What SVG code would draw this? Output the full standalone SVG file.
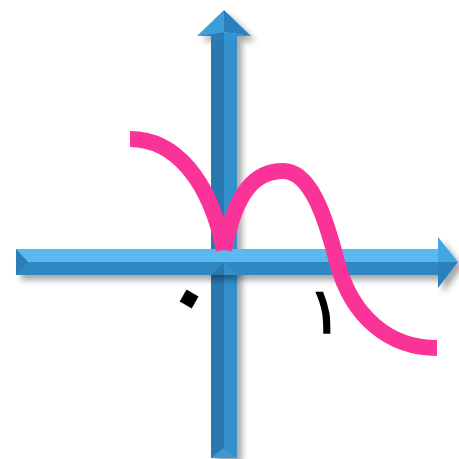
<svg xmlns="http://www.w3.org/2000/svg" width="459" height="459" viewBox="0 0 459 459">
<defs>
<filter id="sh" x="-20%" y="-20%" width="140%" height="140%">
<feGaussianBlur in="SourceAlpha" stdDeviation="3"/>
<feOffset dx="5" dy="5" result="b"/>
<feComponentTransfer><feFuncA type="linear" slope="0.35"/></feComponentTransfer>
<feMerge><feMergeNode/><feMergeNode in="SourceGraphic"/></feMerge>
</filter>
<style>
.vd{fill:#2a78b0}.vl{fill:#3290cc}.hl{fill:#5cb9ef}.hd{fill:#2f88c4}
.hdl{fill:#3a9ed9}.hdd{fill:#2c80bd}
.curve{fill:none;stroke:#fa3399;stroke-width:16}
.lbl{font-family:"DejaVu Sans",sans-serif;fill:#000}
</style>
</defs>
<g id="connectors">
<g id="y-axis" filter="url(#sh)">
<polygon class="vd" points="211,36 224,36 224,458 211,458"/>
<polygon class="vl" points="224,36 237,36 237,458 224,458"/>
<polygon class="hdl" points="224,10 197,36 224,32"/>
<polygon class="hdd" points="224,10 251,36 224,32"/>
<polygon fill="#2b7cb6" points="197,36 224,32 224,40 211,40 211,36"/>
<polygon fill="#3394d0" points="251,36 224,32 224,40 237,40 237,36"/>
<polygon fill="#3a9ad6" points="211,458 224,448 237,458"/>
</g>
<g id="x-axis" filter="url(#sh)">
<polygon class="hl" points="16,249 438,249 438,262 16,262"/>
<polygon class="hd" points="16,262 438,262 438,275 16,275"/>
<polygon fill="#2a7fb8" points="16,249 28,262 16,275"/>
<polygon fill="#43a6e3" points="438,237 458,262 438,262"/>
<polygon fill="#2a80bd" points="438,262 458,262 438,288"/>
</g>
<polygon class="vd" points="211,275 224,262 224,275"/>
<polygon class="vl" points="224,262 237,275 224,275"/>
</g>
<g id="curve">
<path class="curve" d="M130,139 C175,139 210,180 224,250"/>
<path class="curve" d="M224,250 C236,190 256,171 283,171 C310,171 325,215 337,262 C352,318 390,348 437,348"/>
</g>
<g id="label-0"><text class="lbl" x="191" y="322" font-size="80" font-weight="bold" text-anchor="middle" transform="rotate(30 191 296)">٠</text></g>
<g id="label-1"><text class="lbl" x="325" y="333" font-size="64" text-anchor="middle" stroke="#000" stroke-width="1.5">١</text></g>
</svg>
